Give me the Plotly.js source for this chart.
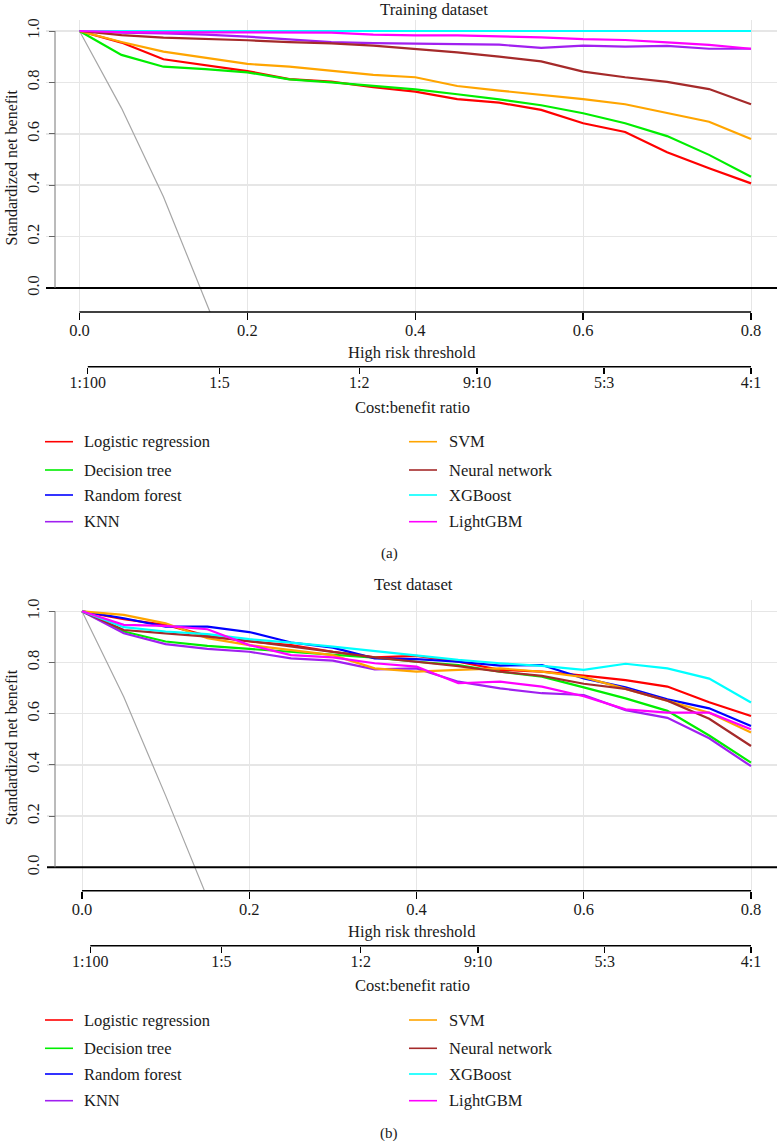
<!DOCTYPE html>
<html>
<head>
<meta charset="utf-8">
<script src="https://cdn.plot.ly/plotly-3.0.1.min.js"></script>
<style>
  html, body { margin: 0; padding: 0; background: #ffffff; }
  #chart { width: 779px; height: 1141px; }
</style>
</head>
<body>
<div id="chart"></div>
<script>
// Decision curves: standardized net benefit vs. high risk threshold
const thresholds = [0, 0.05, 0.10, 0.15, 0.20, 0.25, 0.30, 0.35, 0.40,
                    0.45, 0.50, 0.55, 0.60, 0.65, 0.70, 0.75, 0.80];

const models = ["Logistic regression", "Decision tree", "Random forest", "KNN",
                "SVM", "Neural network", "XGBoost", "LightGBM"];
const modelColors = ["#FF0000", "#00EE00", "#0000FF", "#A020F0",
                     "#FFA500", "#A52A2A", "#00FFFF", "#FF00FF"];

// Training dataset
const trainLR   = [1.000, 0.955, 0.890, 0.868, 0.844, 0.813, 0.803, 0.781, 0.764, 0.735, 0.721, 0.693, 0.641, 0.607, 0.528, 0.466, 0.407];
const trainDT   = [1.000, 0.907, 0.861, 0.852, 0.839, 0.812, 0.800, 0.787, 0.773, 0.754, 0.734, 0.711, 0.680, 0.641, 0.591, 0.518, 0.433];
const trainRF   = [1.000, 1.000, 1.000, 1.000, 1.000, 1.000, 1.000, 1.000, 1.000, 1.000, 1.000, 1.000, 1.000, 1.000, 1.000, 1.000, 1.000];
const trainKNN  = [1.000, 0.994, 0.991, 0.986, 0.978, 0.968, 0.957, 0.953, 0.951, 0.949, 0.947, 0.934, 0.943, 0.939, 0.942, 0.931, 0.931];
const trainSVM  = [1.000, 0.957, 0.920, 0.896, 0.872, 0.861, 0.846, 0.829, 0.820, 0.786, 0.768, 0.751, 0.735, 0.715, 0.680, 0.647, 0.580];
const trainNN   = [1.000, 0.984, 0.974, 0.970, 0.964, 0.957, 0.952, 0.943, 0.930, 0.917, 0.900, 0.882, 0.842, 0.820, 0.802, 0.774, 0.715];
const trainXGB  = [1.000, 1.000, 1.000, 1.000, 1.000, 1.000, 1.000, 1.000, 1.000, 1.000, 1.000, 1.000, 1.000, 1.000, 1.000, 1.000, 1.000];
const trainLGBM = [1.000, 0.996, 0.995, 0.995, 0.995, 0.995, 0.994, 0.986, 0.983, 0.983, 0.979, 0.975, 0.968, 0.965, 0.956, 0.946, 0.931];

// Test dataset
const testLR   = [1.000, 0.969, 0.947, 0.904, 0.882, 0.868, 0.842, 0.820, 0.826, 0.803, 0.771, 0.764, 0.749, 0.731, 0.706, 0.645, 0.591];
const testDT   = [1.000, 0.921, 0.882, 0.865, 0.853, 0.842, 0.832, 0.819, 0.803, 0.790, 0.764, 0.745, 0.703, 0.660, 0.611, 0.515, 0.409];
const testRF   = [1.000, 0.973, 0.940, 0.940, 0.919, 0.878, 0.858, 0.816, 0.813, 0.803, 0.788, 0.790, 0.738, 0.703, 0.656, 0.621, 0.552];
const testKNN  = [1.000, 0.914, 0.872, 0.853, 0.842, 0.816, 0.807, 0.773, 0.777, 0.725, 0.699, 0.680, 0.673, 0.614, 0.584, 0.504, 0.395];
const testSVM  = [1.000, 0.986, 0.953, 0.895, 0.868, 0.849, 0.829, 0.777, 0.764, 0.771, 0.777, 0.764, 0.743, 0.697, 0.652, 0.604, 0.527];
const testNN   = [1.000, 0.927, 0.914, 0.901, 0.884, 0.862, 0.842, 0.820, 0.803, 0.786, 0.764, 0.748, 0.717, 0.697, 0.651, 0.580, 0.474];
const testXGB  = [1.000, 0.938, 0.921, 0.911, 0.891, 0.878, 0.862, 0.845, 0.829, 0.810, 0.797, 0.787, 0.771, 0.795, 0.777, 0.737, 0.644];
const testLGBM = [1.000, 0.947, 0.943, 0.930, 0.868, 0.829, 0.820, 0.797, 0.784, 0.719, 0.725, 0.706, 0.668, 0.617, 0.604, 0.604, 0.539];

// "Treat all" reference curves
const treatAllTrainX = [0, 0.05, 0.10, 0.15, 0.16];
const treatAllTrainY = [1.000, 0.700, 0.355, -0.043, -0.13];
const treatAllTestX  = [0, 0.05, 0.10, 0.135, 0.15];
const treatAllTestY  = [1.000, 0.665, 0.280, 0.000, -0.12];

// Cost:benefit ratio axis (cost : benefit)
const cbCost    = [1, 1, 1, 9, 5, 4];
const cbBenefit = [100, 5, 2, 10, 3, 1];
const cbLabels  = ["1:100", "1:5", "1:2", "9:10", "5:3", "4:1"];
const cbThresholds = cbCost.map((c, i) => c / (c + cbBenefit[i]));

const thresholdTicks = [0, 0.2, 0.4, 0.6, 0.8];
const nbTicks = [0, 0.2, 0.4, 0.6, 0.8, 1.0];

const trainSeries = [trainLR, trainDT, trainRF, trainKNN, trainSVM, trainNN, trainXGB, trainLGBM];
const testSeries  = [testLR, testDT, testRF, testKNN, testSVM, testNN, testXGB, testLGBM];

// ---------- layout helpers (pixel -> paper) ----------
const W = 779, H = 1141;
const px = p => p / W;
const py = p => 1 - p / H;
const FONT = "Liberation Serif, Times New Roman, serif";
const FS = 16.5;
const TXT = "#1a1a1a";
const GRID = "#E6E6E6";

const panels = [
  { title: "Training dataset", tag: "(a)", series: trainSeries,
    tax: treatAllTrainX, tay: treatAllTrainY,
    xa: "x", ya: "y", xcb: "x3",
    x0: 46, x1: 777, zeroPx: 79.5, perUnit: 839.4,
    top: 20, bottom: 312, yOnePx: 31, yZeroPx: 288,
    titleY: 9, titleX: 434, xTitleY: 352, cbLineY: 366.7, cbTitleY: 407,
    legendRows: [441.7, 470, 495, 521.7], tagY: 553 },
  { title: "Test dataset", tag: "(b)", series: testSeries,
    tax: treatAllTestX, tay: treatAllTestY,
    xa: "x2", ya: "y2", xcb: "x4",
    x0: 47, x1: 777, zeroPx: 82, perUnit: 836.25,
    top: 600, bottom: 890.7, yOnePx: 611.3, yZeroPx: 867.3,
    titleY: 584, titleX: 413, xTitleY: 931, cbLineY: 945.7, cbTitleY: 985,
    legendRows: [1020, 1048.3, 1074, 1100.7], tagY: 1133 }
];

const traces = [];
const shapes = [];
const annotations = [];
const layout = {
  width: W, height: H,
  margin: { l: 0, r: 0, t: 0, b: 0 },
  paper_bgcolor: "#ffffff", plot_bgcolor: "#ffffff",
  showlegend: false,
  font: { family: FONT, size: FS, color: TXT }
};

// legend layout: two columns, order by row
const legendOrder = [[0, 4], [1, 5], [2, 6], [3, 7]];

panels.forEach((p) => {
  const xName = p.xa === "x" ? "xaxis" : "xaxis2";
  const yName = p.ya === "y" ? "yaxis" : "yaxis2";
  const cbName = p.xcb === "x3" ? "xaxis3" : "xaxis4";
  const xr0 = -(p.zeroPx - p.x0) / p.perUnit;
  const xr1 = xr0 + (p.x1 - p.x0) / p.perUnit;
  const perY = p.yZeroPx - p.yOnePx;
  const yr0 = -(p.bottom - p.yZeroPx) / perY;
  const yr1 = (p.yZeroPx - p.top) / perY;
  const xDomain = [px(p.x0), px(p.x1)];

  layout[xName] = {
    domain: xDomain, range: [xr0, xr1], anchor: p.ya,
    tickvals: thresholdTicks, tickformat: ".1f",
    ticks: "outside", ticklen: 7, tickwidth: 1.3, tickcolor: "#000",
    ticklabelstandoff: -4,
    showgrid: true, gridcolor: GRID, gridwidth: 1,
    showline: false, zeroline: false,
    tickfont: { family: FONT, size: FS, color: TXT }
  };
  layout[yName] = {
    domain: [py(p.bottom), py(p.top)], range: [yr0, yr1],
    anchor: "free", position: px(55),
    tickvals: nbTicks, tickformat: ".1f", tickangle: -90,
    ticks: "outside", ticklen: 6, tickwidth: 1, tickcolor: "#666",
    ticklabelstandoff: 3,
    showgrid: true, gridcolor: GRID, gridwidth: 1.5,
    showline: false, zeroline: false,
    tickfont: { family: FONT, size: FS, color: TXT }
  };
  layout[cbName] = {
    overlaying: p.xa, anchor: "free", position: py(p.cbLineY),
    domain: xDomain, range: [xr0, xr1],
    tickvals: cbThresholds, ticktext: cbLabels,
    ticks: "outside", ticklen: 6, tickwidth: 1.3, tickcolor: "#000",
    ticklabelstandoff: -5,
    showgrid: false, showline: false, zeroline: false,
    tickfont: { family: FONT, size: 16, color: TXT }
  };

  // placeholder trace so the cost:benefit axis is rendered
  traces.push({ x: cbThresholds, y: cbThresholds.map(() => null), xaxis: p.xcb, yaxis: p.ya,
                mode: "lines", hoverinfo: "skip", showlegend: false });

  // treat all
  traces.push({ x: p.tax, y: p.tay, xaxis: p.xa, yaxis: p.ya, mode: "lines",
                line: { color: "#A6A6A6", width: 1.2 }, name: "Treat all", showlegend: false });

  // models
  p.series.forEach((s, i) => {
    traces.push({ x: thresholds, y: s, xaxis: p.xa, yaxis: p.ya, mode: "lines",
                  line: { color: modelColors[i], width: 2.2 }, name: models[i], showlegend: false });
  });

  // treat none (net benefit 0) across the full plot width
  shapes.push({ type: "line", xref: p.xa + " domain", x0: 0, x1: 1, yref: p.ya, y0: 0, y1: 0,
                line: { color: "#000", width: 2 } });
  // y axis line from 0 to 1
  shapes.push({ type: "line", xref: "paper", x0: px(55), x1: px(55), yref: p.ya,
                y0: nbTicks[0], y1: nbTicks[nbTicks.length - 1], line: { color: "#777", width: 1 } });
  // threshold axis line from first to last tick
  shapes.push({ type: "line", xref: p.xa, x0: thresholdTicks[0], x1: thresholdTicks[thresholdTicks.length - 1],
                yref: "paper", y0: py(p.bottom), y1: py(p.bottom), line: { color: "#000", width: 1.5 } });
  // cost:benefit axis line
  shapes.push({ type: "line", xref: p.xa, x0: cbThresholds[0], x1: cbThresholds[cbThresholds.length - 1],
                yref: "paper", y0: py(p.cbLineY), y1: py(p.cbLineY), line: { color: "#000", width: 1.5 } });

  // titles and axis labels
  annotations.push({ text: p.title, xref: "paper", yref: "paper", x: px(p.titleX), y: py(p.titleY),
                     xanchor: "center", yanchor: "middle", showarrow: false, font: { size: FS + 0.3 } });
  annotations.push({ text: "Standardized net benefit", xref: "paper", yref: "paper",
                     x: px(11), y: py((p.yOnePx + p.yZeroPx) / 2 + 8), textangle: -90,
                     xanchor: "center", yanchor: "middle", showarrow: false, font: { size: 16 } });
  annotations.push({ text: "High risk threshold", xref: "paper", yref: "paper", x: px(412), y: py(p.xTitleY),
                     xanchor: "center", yanchor: "middle", showarrow: false, font: { size: FS } });
  annotations.push({ text: "Cost:benefit ratio", xref: "paper", yref: "paper", x: px(412), y: py(p.cbTitleY),
                     xanchor: "center", yanchor: "middle", showarrow: false, font: { size: FS } });
  annotations.push({ text: p.tag, xref: "paper", yref: "paper", x: px(389), y: py(p.tagY),
                     xanchor: "center", yanchor: "middle", showarrow: false, font: { size: 15 } });

  // legend (two columns)
  const cols = [{ l0: 45, l1: 73, t: 82 }, { l0: 409, l1: 437, t: 447 }];
  legendOrder.forEach((row, r) => {
    row.forEach((mi, c) => {
      const yy = py(p.legendRows[r]);
      shapes.push({ type: "line", xref: "paper", yref: "paper", x0: px(cols[c].l0), x1: px(cols[c].l1),
                    y0: yy, y1: yy, line: { color: modelColors[mi], width: 1.6 } });
      annotations.push({ text: models[mi], xref: "paper", yref: "paper", x: px(cols[c].t), y: yy,
                         xanchor: "left", yanchor: "middle", showarrow: false, font: { size: FS } });
    });
  });
});

layout.shapes = shapes;
layout.annotations = annotations;

Plotly.newPlot("chart", traces, layout, { staticPlot: true, displayModeBar: false });
</script>
</body>
</html>
